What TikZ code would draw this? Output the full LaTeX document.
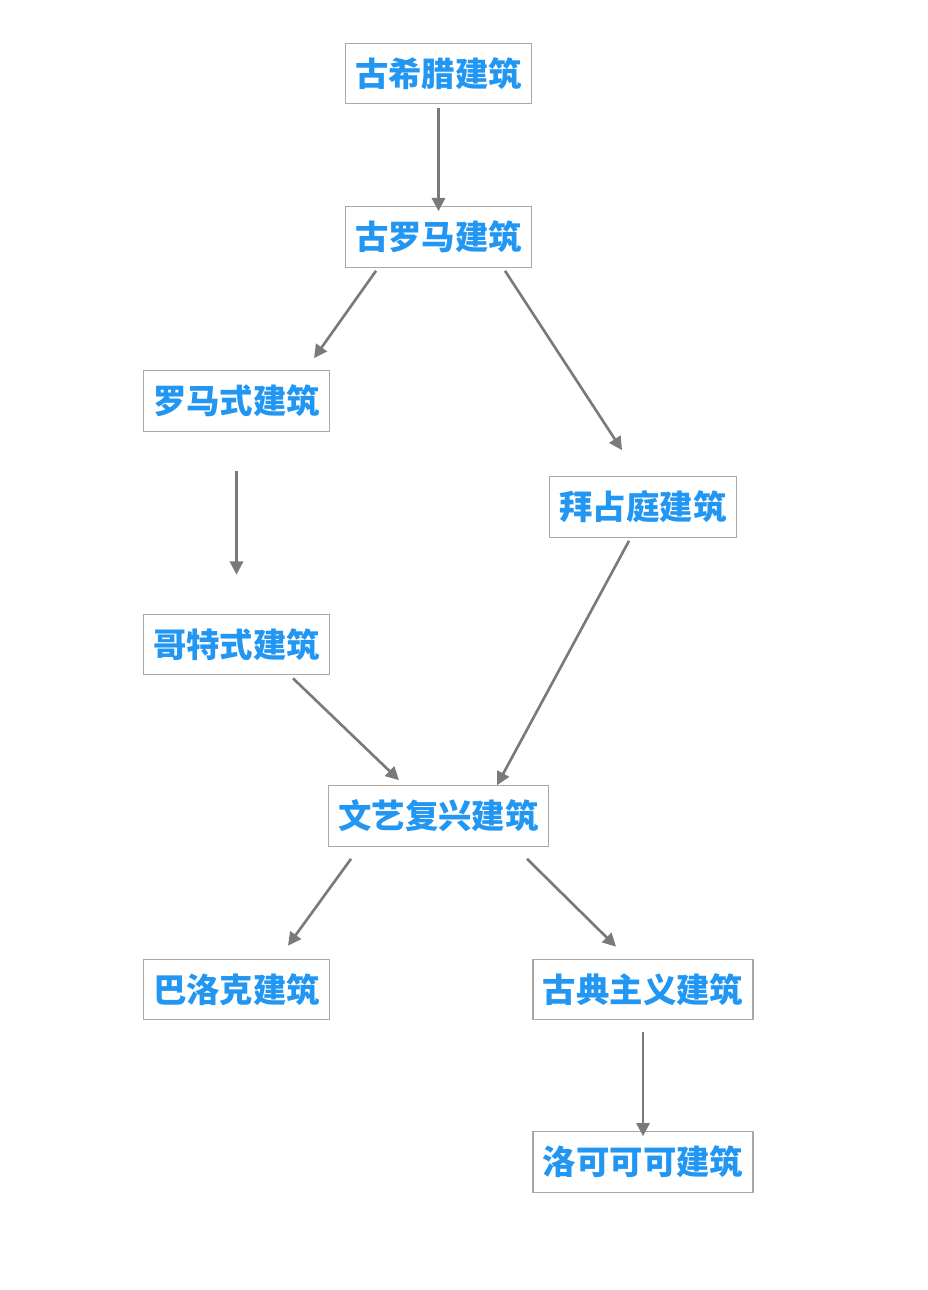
\documentclass[tikz,border=0pt]{standalone}
\usepackage{fontspec}
\newfontfamily\cjk{Noto Sans CJK SC}
\usetikzlibrary{arrows.meta}
\definecolor{txtblue}{HTML}{2196F3}
\definecolor{boxgray}{HTML}{A8A8A8}
\definecolor{arrgray}{HTML}{7A7A7A}
\tikzset{
  era/.style={draw=boxgray, line width=0.6pt, fill=white, text=txtblue,
    font=\cjk\bfseries\fontsize{19pt}{22pt}\selectfont,
    inner xsep=5.6pt, inner ysep=0pt, minimum height=34.5pt},
  arr/.style={draw=arrgray, line width=1.5pt, -{Triangle[length=7.5pt,width=7.5pt]}}
}
\begin{document}
\begin{tikzpicture}[x=0.02cm,y=-0.02cm]
    \useasboundingbox (0,0) rectangle (928,1290);
    \node[era] (GR) at (438.5,73.5) {古希腊建筑};
    \node[era] (RM) at (438.5,237) {古罗马建筑};
    \node[era] (RMS) at (236.5,401) {罗马式建筑};
    \node[era] (BZ) at (643,507) {拜占庭建筑};
    \node[era] (GT) at (236.5,644.5) {哥特式建筑};
    \node[era] (WY) at (438.5,816) {文艺复兴建筑};
    \node[era] (BL) at (236.5,989.5) {巴洛克建筑};
    \node[era] (GD) at (643,989.5) {古典主义建筑};
    \node[era] (LK) at (643,1162) {洛可可可建筑};
    \draw[arr] ([shift={(0,4)}]GR.south) -- ([shift={(0,5)}]RM.north);
    \draw[arr] ([shift={(-62.5,3)}]RM.south) -- ([shift={(77.5,-12)}]RMS.north);
    \draw[arr] ([shift={(66.5,3)}]RM.south) -- ([shift={(-21,-26)}]BZ.north);
    \draw[arr] ([shift={(0,39)}]RMS.south) -- ([shift={(0,-39)}]GT.north);
    \draw[arr] ([shift={(-14,3)}]BZ.south) -- ([shift={(58.5,0)}]WY.north);
    \draw[arr] ([shift={(56.5,3)}]GT.south) -- ([shift={(-39.5,-5)}]WY.north);
    \draw[arr] ([shift={(-87.5,12)}]WY.south) -- ([shift={(51.5,-13)}]BL.north);
    \draw[arr] ([shift={(88.5,12)}]WY.south) -- ([shift={(-27,-12)}]GD.north);
    \draw[arr] ([shift={(0,12)}]GD.south) -- ([shift={(0,5)}]LK.north);
\end{tikzpicture}
\end{document}
